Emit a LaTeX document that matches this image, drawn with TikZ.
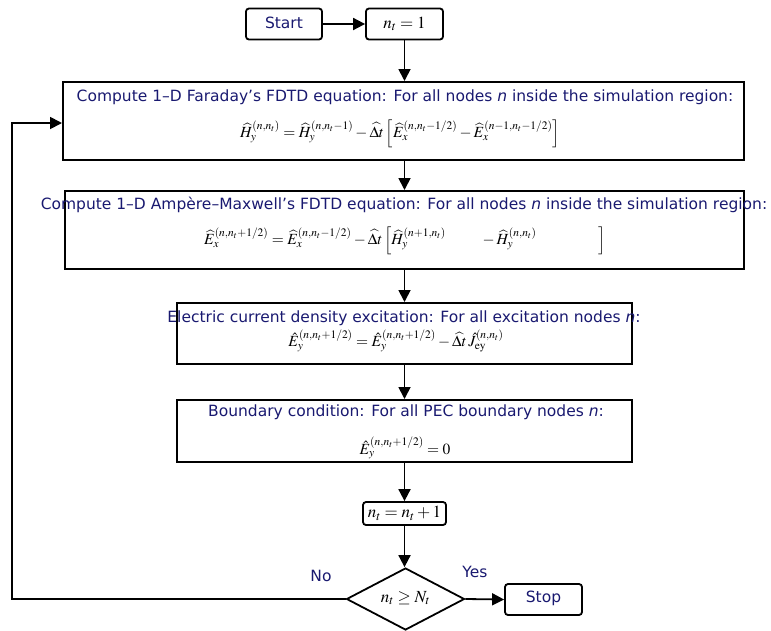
\documentclass[tikz,border=0pt]{standalone}
\usepackage{mathptmx}
\usepackage{amsmath}
\usepackage[no-math]{fontspec}
\setmainfont{DejaVu Sans}
\usetikzlibrary{shapes.geometric,arrows.meta}
\definecolor{txtblue}{RGB}{25,25,112}
\begin{document}
\begin{tikzpicture}[x=1pt,y=-1pt,
  box/.style={draw=black,line width=2pt,minimum width=#1,inner sep=0pt},
  rbox/.style={draw=black,line width=1.8pt,rounded corners=3pt,inner sep=0pt,minimum width=#1,minimum height=31pt},
  lbl/.style={text=txtblue,font=\fontsize{15.5}{17}\selectfont,inner sep=0pt},
  eq/.style={inner sep=0pt,font=\fontsize{15.5}{17}\selectfont},
  arr/.style={draw=black,line width=1.8pt,-{Triangle[length=12pt,width=12pt]}}]
\useasboundingbox (0,0) rectangle (771,630);
% boxes
\node[rbox=76pt] (start) at (284,24) {};
\node[lbl] (starttxt) at (284,23) {Start};
\node[rbox=77pt] (init) at (404.5,24) {\fontsize{17}{19}\selectfont$n_t=1$};
\node[box=681pt,minimum height=78pt] (b1) at (403.5,121) {};
\node[box=679pt,minimum height=78pt] (b2) at (404.5,230) {};
\node[box=455pt,minimum height=61pt] (b3) at (404.5,333.5) {};
\node[box=455pt,minimum height=62pt] (b4) at (404.5,431) {};
\node[rbox=83pt,minimum height=23pt] (inc) at (404.5,513.5) {\fontsize{17}{19}\selectfont$n_t=n_t+1$};
\node[draw=black,line width=1.8pt,diamond,minimum width=118pt,minimum height=62pt,aspect=1.9,inner sep=0pt] (dec) at (405.5,599) {};
\node[inner sep=0pt] (dectxt) at (405.5,598) {\fontsize{17}{19}\selectfont$n_t\ge N_t$};
\node[rbox=77pt] (stop) at (543.5,599.5) {};
\node[lbl] (stoptxt) at (543.5,598) {Stop};
% texts
\node[lbl] (t1) at (405,97) {Compute 1–D Faraday’s FDTD equation: For all nodes \textit{n} inside the simulation region:};
\node[eq] (e1) at (400,134) {$\widehat{H}_y^{(n,n_t)}=\widehat{H}_y^{(n,n_t-1)}-\widehat{\Delta t}\left[\widehat{E}_x^{(n,n_t-1/2)}-\widehat{E}_x^{(n-1,n_t-1/2)}\right]$};
\node[lbl] (t2) at (404,205) {Compute 1–D Ampère–Maxwell’s FDTD equation: For all nodes \textit{n} inside the simulation region:};
\node[eq] (e2) at (405,241) {$\widehat{E}_x^{(n,n_t+1/2)}=\widehat{E}_x^{(n,n_t-1/2)}-\widehat{\Delta t}\left[\widehat{H}_y^{(n+1,n_t)}\qquad\;-\widehat{H}_y^{(n,n_t)}\qquad\qquad\right]$};
\node[lbl] (t3) at (404,318) {Electric current density excitation: For all excitation nodes \textit{n}:};
\node[eq] (e3) at (396,341) {$\hat{E}_y^{(n,n_t+1/2)}=\hat{E}_y^{(n,n_t+1/2)}-\widehat{\Delta t}\,\hat{J}_{\mathrm{ey}}^{(n,n_t)}$};
\node[lbl] (t4) at (406,412) {Boundary condition: For all PEC boundary nodes \textit{n}:};
\node[eq] (e4) at (405,448) {$\hat{E}_y^{(n,n_t+1/2)}=0$};
\node[lbl] (no) at (321,576) {No};
\node[lbl] (yes) at (475,572) {Yes};
% connectors
\coordinate (lb) at (12,599);
\coordinate (lt) at (12,123);
\draw[arr] (start) -- (init);
\draw[arr] (init.south) -- (b1.north -| init.south);
\draw[arr] (b1.south -| init.south) -- (b2.north -| init.south);
\draw[arr] (b2.south -| init.south) -- (b3.north -| init.south);
\draw[arr] (b3.south -| init.south) -- (b4.north -| init.south);
\draw[arr] (b4.south -| init.south) -- (inc.north);
\draw[arr] (inc.south) -- (inc.south |- dec.north);
\draw[arr] (dec.east) -- (stop.west);
\draw[arr] (dec.west) -- (lb) -- (lt) -- (lt -| b1.west);
\end{tikzpicture}
\end{document}
